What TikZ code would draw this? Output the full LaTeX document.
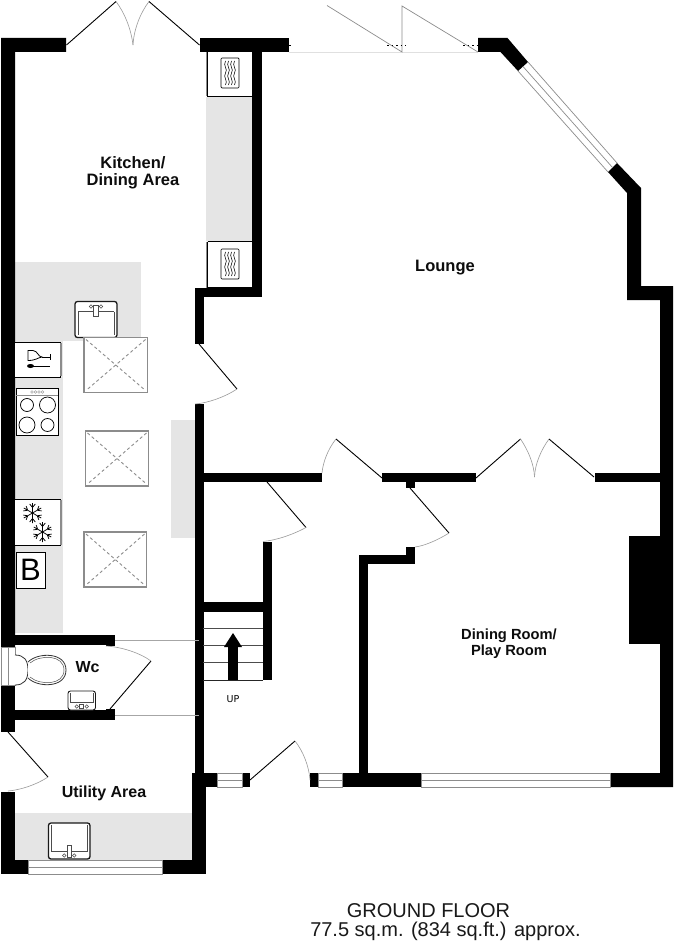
\documentclass[tikz,border=0pt]{standalone}
\usepackage{fontspec}
\setmainfont{Liberation Sans}
\newfontfamily\upfont{DejaVu Sans}
\definecolor{worktop}{HTML}{E5E5E5}
\definecolor{arcgrey}{HTML}{9A9A9A}
\definecolor{glassgrey}{HTML}{8C8C8C}
\tikzset{
  wall/.style={fill=black,draw=none},
  top/.style={fill=worktop,draw=none},
  leaf/.style={draw=black,line width=0.9pt},
  swing/.style={draw=arcgrey,line width=0.6pt},
  glass/.style={draw=glassgrey,line width=0.7pt,fill=white},
  glassline/.style={draw=glassgrey,line width=0.7pt},
  unit/.style={draw=black,line width=0.7pt,fill=white},
  thick unit/.style={draw=black!90,line width=1.3pt,fill=white,rounded corners=2.5pt},
  roomlabel/.style={font=\fontsize{16}{16}\selectfont\bfseries,align=center,inner sep=0pt,text=black!95},
  caption/.style={font=\fontsize{20}{21}\selectfont,align=center,inner sep=0pt,text=black!90},
  roof/.style={draw=glassgrey,line width=1.1pt,fill=white},
  roofdiag/.style={draw=glassgrey,line width=0.9pt,dash pattern=on 3pt off 2.6pt},
}
% #1 left, #2 top, #3 right, #4 bottom
\newcommand{\skylightbox}[4]{
  \draw[roof] (#1,#2) rectangle (#3,#4);
  \draw[roofdiag] (#1+2,#2+2) -- (#3-2,#4-2) (#3-2,#2+2) -- (#1+2,#4-2);
}
\newcommand{\squiggles}[2]{
  \begin{scope}[shift={(#1,#2)}]
    \draw[unit,rounded corners=1pt] (0,0) rectangle (18,30);
    \foreach \q in {4.5,7.5,10.5,13.5}
      \draw[black,line width=0.55pt] (\q,3) .. controls (\q-3,8) and (\q+3,11) .. (\q,15) .. controls (\q-3,19) and (\q+3,23) .. (\q,27);
  \end{scope}
}
\newcommand{\ovenunit}[2]{
  \begin{scope}[shift={(206,#1)}]
    \fill[white] (0,0) rectangle (46,#2);
    \fill[glassgrey] (0,0) rectangle (1.5,#2);
    \draw[black,line width=0.7pt] (1.5,0) -- (1.5,#2) -- (46,#2);
  \end{scope}
}
\newcommand{\sinktop}[2]{% tap at top
  \begin{scope}[shift={(#1,#2)}]
    \draw[thick unit] (0,0) rectangle (42,36);
    \draw[black!70,line width=0.6pt] (3,10) -- (39,10) (3,10) -- (3,33) (39,10) -- (39,33);
    \draw[black!70,line width=0.6pt,fill=white] (18.5,4) rectangle (23.5,15);
    \draw[black!70,line width=0.6pt] (16,5) circle (1.8) (26,5) circle (1.8);
  \end{scope}
}
\newcommand{\sinkbottom}[6]{% x y w h tap-height frame-width
  \begin{scope}[shift={(#1,#2)}]
    \draw[thick unit,line width=#6] (0,0) rectangle (#3,#4);
    \draw[black!70,line width=0.6pt] (2.5,2) -- (2.5,#4-8) -- (#3-2.5,#4-8) -- (#3-2.5,2);
    \draw[black!70,line width=0.6pt,fill=white] (#3/2-2,#4-#5) rectangle (#3/2+2,#4-2);
    \draw[black!70,line width=0.6pt] (#3/2-5,#4-3.5) circle (1.8) (#3/2+5,#4-3.5) circle (1.8);
  \end{scope}
}
\newcommand{\snowflake}[2]{
  \begin{scope}[shift={(#1,#2)}]
    \foreach \a in {0,60,...,300} {
      \begin{scope}[rotate=\a+30]
        \draw[black,line width=0.75pt] (0,0) -- (10,0) (5.5,0) -- (9,2.8) (5.5,0) -- (9,-2.8);
      \end{scope}
    }
  \end{scope}
}
\begin{document}
\begin{tikzpicture}[x=1pt,y=-1pt]
\useasboundingbox (0,0) rectangle (674,941);
\fill[white] (0,0) rectangle (674,941);

% worktops
\fill[top] (206,97) rectangle (252,241);
\fill[top] (15,262) rectangle (141,341);
\fill[top] (15,341) rectangle (62.5,633);
\fill[top] (171,420) rectangle (195,538);
\fill[top] (15,813) rectangle (192,860);

% walls
\fill[wall] (1,38) -- (66,38) -- (66,52) -- (15,52) -- (15,647) -- (1,647) -- cycle;
\fill[wall] (1,685) rectangle (15,732);
\fill[wall] (1,792) rectangle (15,874);
\fill[wall] (1,860) rectangle (28,874);
\fill[wall] (162,860) rectangle (206,874);
\fill[wall] (192,774) rectangle (206,874);
\fill[wall] (200,38) rectangle (289,52);
\fill[wall] (252,38) rectangle (262,297);
\fill[wall] (195,288) rectangle (262,297);
\fill[wall] (195,288) rectangle (203.5,344);
\fill[wall] (195,404) rectangle (203.5,774);
\fill[wall] (203,473) rectangle (322,482);
\fill[wall] (382,473) rectangle (476,482);
\fill[wall] (406,482) rectangle (415,488);
\fill[wall] (595,473) rectangle (660,482);
\fill[wall] (478,38) -- (507.5,38) -- (528,62) -- (518,71) -- (500.5,52) -- (478,52) -- cycle;
\fill[wall] (617,163) -- (641,188) -- (641,286) -- (673,286) -- (673,787) -- (610,787) -- (610,773) -- (660,773) -- (660,300) -- (627,300) -- (627,193) -- (608,172) -- cycle;
\fill[wall] (629,536) rectangle (660,644);
\fill[wall] (192,773) rectangle (217,787);
\fill[wall] (242,773) rectangle (250,787);
\fill[wall] (310,773) rectangle (318,787);
\fill[wall] (342,773) rectangle (421,787);
\fill[wall] (359,555) rectangle (368,773);
\fill[wall] (359,555) rectangle (415,564);
\fill[wall] (406,547) rectangle (415,564);
\fill[wall] (263,541.5) rectangle (272,680);
\fill[wall] (203,602) rectangle (263,612);
\fill[wall] (15,635) rectangle (115,645);
\fill[wall] (106,635) rectangle (115,646);
\fill[wall] (15,710) rectangle (115,720);
\fill[wall] (106,709) rectangle (115,720);

% windows
\draw[glass] (1,647) rectangle (15,685);
\draw[glassline] (8,647) -- (8,685);
\draw[glass] (28,860) rectangle (162,874);
\draw[glassline] (28,867) -- (162,867);
\draw[glass] (217,773) rectangle (242,787);
\draw[glassline] (217,780) -- (242,780);
\draw[glass] (318,773) rectangle (342,787);
\draw[glassline] (318,780) -- (342,780);
\draw[glass] (421,773) rectangle (610,787);
\draw[glassline] (421,780) -- (610,780);
\draw[glassline] (528,62) -- (617,163) (518,71) -- (608,172) (523,66.5) -- (612.5,167.5);

% patio doors
\draw[draw=black!12,line width=0.8pt] (289,52) -- (478,52);
\draw[glassline] (327,5.5) -- (402,52) -- (402,6) -- (478,52);
\draw[black,line width=0.5pt,dash pattern=on 1.5pt off 3pt] (387,45) -- (406,45) (463,45) -- (478,45) (289,45) -- (291,45);

% internal stair lines
\draw[black!70,line width=0.7pt] (203,628) -- (263,628) (203,645.5) -- (263,645.5) (203,662.5) -- (263,662.5);
\draw[black!85,line width=1pt] (203,680) -- (263,680);
\fill[wall] (228,646) rectangle (237.5,680);
\fill[wall] (233,633) -- (242,647) -- (224,647) -- cycle;

% wc passage lines
\draw[draw=black!35,line width=0.7pt] (115,640) -- (199,640) (115,715) -- (199,715);

% doors
\draw[leaf] (66.5,45) -- (116,1.5);
\draw[swing] (116,1.5) .. controls (124,12) and (131,28) .. (133,45);
\draw[leaf] (199.5,45) -- (149,1.5);
\draw[swing] (149,1.5) .. controls (141,12) and (134,28) .. (133,45);
\draw[leaf] (199,344) -- (237,389);
\draw[swing] (237,389) .. controls (225,397) and (208,403) .. (195,404);
\draw[leaf] (267,482) -- (306,527.5);
\draw[swing] (306,527.5) .. controls (294,534) and (278,540) .. (263,541.5);
\draw[leaf] (382,478) -- (336,439);
\draw[swing] (336,439) .. controls (328,449) and (323,462) .. (322,473);
\draw[leaf] (410,488) -- (449,533);
\draw[swing] (449,533) .. controls (438,540) and (424,546) .. (415,547);
\draw[leaf] (476,478) -- (520.5,439);
\draw[swing] (520.5,439) .. controls (528,450) and (534,464) .. (534.5,477);
\draw[leaf] (594,477) -- (549,439);
\draw[swing] (549,439) .. controls (541,450) and (535,464) .. (534.5,477);
\draw[leaf] (250,780) -- (295,741);
\draw[swing] (295,741) .. controls (303,751) and (309,766) .. (310,780);
\draw[leaf] (110,709) -- (151,661);
\draw[swing] (151,661) .. controls (140,653) and (122,647) .. (106,646);
\draw[leaf] (8,732) -- (48,777);
\draw[swing] (48,777) .. controls (36,785) and (20,790) .. (8,791);

% ovens
\ovenunit{52}{44.5}
\ovenunit{241.5}{46}
\draw[black,line width=0.7pt] (207.5,241.5) -- (252,241.5);
\squiggles{221}{58}
\squiggles{221}{249}

% kitchen units
\draw[unit] (15,342) -- (60,342) -- (60,377) -- (15,377);
\fill[glassgrey] (60,343) rectangle (62,376);
\draw[black,line width=0.8pt] (28,350.5) -- (33,350.5) .. controls (38,351) and (38,357) .. (42,357) .. controls (38,357.5) and (36,360.5) .. (28,360.5) -- cycle;
\draw[black,line width=0.8pt] (42,357) -- (50,357) (50,354) -- (50,360);
\fill[black] (30.5,366) ellipse (3.5 and 2);
\draw[black,line width=0.7pt] (33,366) -- (50,366);

\draw[unit] (16,388) rectangle (58,435);
\draw[glassgrey,line width=0.9pt] (16,395) -- (58,395);
\foreach \cx in {32,35.5,39,42.5}
  \draw[glassgrey,line width=0.45pt] (\cx,392) circle (1.4);
\draw[black,line width=0.7pt] (27,405) circle (6.5) (47.5,405) circle (8) (27,425) circle (8) (47.5,425) circle (6.5);

\draw[unit] (15,499.5) -- (60,499.5) -- (60,545.5) -- (15,545.5);
\fill[glassgrey] (60,500) rectangle (62,545);
\snowflake{32.5}{513}
\snowflake{42.5}{532}

\draw[unit] (16,552) rectangle (45,588);
\node (boiler) at (30.5,570) [inner sep=0pt,font=\fontsize{31}{31}\selectfont] {B};

\sinktop{75}{301.5}
\skylightbox{84}{337.5}{147.5}{392.5}
\skylightbox{85.5}{431}{148.5}{486}
\skylightbox{84}{532}{146.5}{587}

% wc fittings
\draw[draw=black!80,line width=0.8pt,fill=white] (15,655) .. controls (24,655) and (28,660) .. (28,670) .. controls (28,680) and (24,685) .. (15,685);
\draw[draw=black!80,line width=0.8pt,fill=white] (28,662) .. controls (38,652) and (66,652) .. (66,670) .. controls (66,688) and (38,688) .. (28,678);
\draw[draw=black!70,line width=0.5pt] (30,663) .. controls (40,654.5) and (64,654.5) .. (64,670) .. controls (64,685.5) and (40,685.5) .. (30,677);
\sinkbottom{68}{691}{27.5}{19}{6}{0.9pt}
\sinkbottom{48.5}{823}{41.5}{36}{14}{1.3pt}

% labels
\node[roomlabel,font=\fontsize{16.5}{16.5}\selectfont\bfseries] (kitchen) at (133,173) {Kitchen/\\Dining Area};
\node[roomlabel,font=\fontsize{16.5}{16.5}\selectfont\bfseries] (lounge) at (445,268) {Lounge};
\node[roomlabel,font=\fontsize{14.7}{16}\selectfont\bfseries] (dining) at (509,643.5) {Dining Room/\\Play Room};
\node[roomlabel] (wc) at (87.5,667.5) {Wc};
\node[roomlabel] (utility) at (104,793.5) {Utility Area};
\node[inner sep=0pt,font=\upfont\fontsize{9.5}{10}\selectfont] (up) at (233,699.5) {UP};
\node[caption] (floor) at (428.5,910.5) {GROUND FLOOR};
\node[caption] (area) at (445.5,931) {77.5 sq.m. (834 sq.ft.) approx.};
\end{tikzpicture}
\end{document}
